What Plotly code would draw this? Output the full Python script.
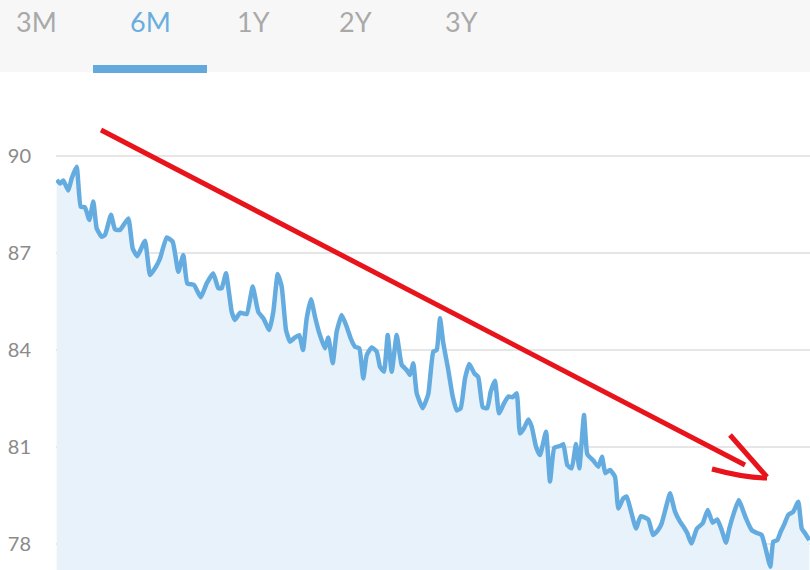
import plotly.graph_objects as go

# chart data (t = horizontal position along the 6M window)
t = [0.7, 4, 7.3, 12.3, 15.7, 20.7, 24.7, 29, 33.3, 37.3, 40.7, 45.7, 49, 55, 59, 64,
     72.3, 76.7, 81.3, 89, 94, 100, 104, 110.7, 116.7, 122.3, 127.3, 131.3, 138, 144.7,
     150.7, 157.3, 162.3, 165.7, 170, 175.7, 179, 184, 190.7, 196.7, 202.3, 207.3, 213.3,
     217.3, 221.7, 225.7, 230, 234, 239, 243.3, 247, 250.7, 255, 259, 263.3, 269, 272.3,
     276.7, 280.7, 285.7, 290.7, 294.7, 299, 303.3, 307.3, 310.7, 315.7, 320.7, 324, 328,
     331.7, 335.7, 340.7, 345.7, 350.7, 354, 357.3, 360.7, 366.7, 372.3, 377.3, 380.7,
     384, 387.3, 392.3, 396.7, 400.7, 404.7, 409, 413.3, 418.3, 422.3, 426.7, 431.3, 434.7,
     439, 443, 448, 452.3, 456.7, 460.7, 464, 468, 472.3, 475.7, 480, 484, 490, 494,
     498.3, 504, 507.3, 511.3, 515.7, 520, 523.3, 528, 531.3, 537.3, 542.3, 546, 549.3,
     554, 559, 562.3, 567.3, 570.7, 574.7, 580, 584.7, 592.3, 597, 602, 605.7, 609.7,
     614, 619, 624, 628, 631.3, 635.3, 641, 646.7, 651.7, 656.7, 661.3, 665.7, 670,
     673.3, 678, 682.7, 685.7, 690, 695.7, 701.7, 705.7, 710, 714.3, 717.3, 721.3,
     724.7, 728, 732.3, 737.3, 742.3, 745.7, 749, 753.3]
price = [89.26, 89.15, 89.24, 88.93, 89.31, 89.67, 88.43, 88.41, 88.02, 88.59, 87.76,
         87.5, 87.56, 88.18, 87.73, 87.71, 88.07, 87.14, 86.9, 87.38, 86.32, 86.58,
         86.83, 87.48, 87.35, 86.42, 86.94, 86.06, 86.01, 85.63, 86.06, 86.37, 85.91,
         85.91, 86.37, 85.18, 84.93, 85.15, 85.11, 85.96, 85.18, 84.98, 84.62, 85.18,
         86.35, 85.96, 84.62, 84.26, 84.39, 84.46, 84.0, 84.98, 85.57, 85.03, 84.52,
         84.05, 84.39, 83.59, 84.57, 85.08, 84.72, 84.36, 84.1, 84.05, 83.12, 83.84,
         84.08, 83.95, 83.48, 83.33, 84.46, 83.33, 84.46, 83.54, 83.38, 83.23, 83.59,
         82.66, 82.2, 82.64, 83.95, 84.0, 84.98, 84.21, 83.38, 82.56, 82.13, 82.2,
         83.12, 83.57, 83.28, 83.16, 82.23, 82.2, 82.71, 83.05, 82.04, 82.35, 82.56,
         82.54, 82.66, 81.42, 81.58, 81.85, 81.63, 81.01, 80.75, 81.47, 79.93, 80.98,
         81.03, 81.09, 80.44, 80.34, 81.09, 80.34, 81.99, 80.78, 80.58, 80.39, 80.7,
         80.19, 80.29, 80.08, 79.1, 79.41, 79.47, 79.05, 78.48, 78.86, 78.76, 78.28,
         78.43, 78.64, 79.1, 79.57, 79.0, 78.69, 78.51, 78.33, 78.02, 78.48, 78.64,
         79.05, 78.66, 78.76, 78.43, 78.04, 78.48, 78.97, 79.36, 79.15, 78.79, 78.43,
         78.33, 78.28, 77.81, 77.3, 78.07, 78.12, 78.38, 78.59, 78.9, 79.0, 79.31,
         78.48, 78.33, 78.12, 77.61, 78.01, 78.12]
y_ticks = [78, 81, 84, 87, 90]
tabs = ["3M", "6M", "1Y", "2Y", "3Y"]
active_tab = "6M"

W, H = 810, 570
L, T = 56, 80  # plot area left / top in pixels


def px(x):
    return (x - L) / (W - L)


def py(y):
    return (H - y) / (H - T)


fig = go.Figure(go.Scatter(
    x=t, y=price, mode="lines",
    line=dict(color="#64ace0", width=4.5, shape="spline", smoothing=0.4),
    fill="tozeroy", fillcolor="#e7f2fb",
    hoverinfo="skip",
))

shapes = [
    # tab strip background + active underline
    dict(type="rect", xref="paper", yref="paper", x0=px(0), x1=px(W), y0=py(72), y1=py(0),
         fillcolor="#f7f7f7", line_width=0, layer="below"),
    dict(type="rect", xref="paper", yref="paper", x0=px(93), x1=px(207), y0=py(73), y1=py(65),
         fillcolor="#64a9dc", line_width=0),
    # hand-drawn red arrow
    dict(type="line", xref="paper", yref="paper", x0=px(101), y0=py(130), x1=px(745), y1=py(465),
         line=dict(color="#e8141c", width=5)),
    dict(type="line", xref="paper", yref="paper", x0=px(730), y0=py(435), x1=px(767), y1=py(477),
         line=dict(color="#e8141c", width=5)),
    dict(type="path", xref="paper", yref="paper",
         path=f"M {px(712)},{py(469)} Q {px(745)},{py(478)} {px(767)},{py(478)}",
         line=dict(color="#e8141c", width=5)),
]

tab_x = [36, 150, 254, 355, 461]
annotations = [
    dict(text=name, xref="paper", yref="paper", x=px(cx), y=py(22), showarrow=False,
         xanchor="center", yanchor="middle",
         font=dict(family="Lato", size=27, color="#6aaee0" if name == active_tab else "#a9a9a9"))
    for name, cx in zip(tabs, tab_x)
]

fig.update_layout(
    width=W, height=H,
    margin=dict(l=L, r=0, t=T, b=0),
    paper_bgcolor="white", plot_bgcolor="white",
    showlegend=False,
    shapes=shapes, annotations=annotations,
    xaxis=dict(range=[0, W - L], visible=False, fixedrange=True),
    yaxis=dict(
        range=[77.196, 92.35], tickvals=y_ticks, ticktext=[str(v) for v in y_ticks],
        showgrid=True, gridcolor="#e6e6e6", gridwidth=1.5, zeroline=False,
        showline=False, ticks="", ticklabelstandoff=24,
        tickfont=dict(family="Lato", size=20, color="#8a8a8a"),
    ),
)

# drop the browser's default body margin so the figure sits at the window origin
fig.write_html("out.html", config={"displayModeBar": False},
               post_script="document.body.style.margin='0';")
